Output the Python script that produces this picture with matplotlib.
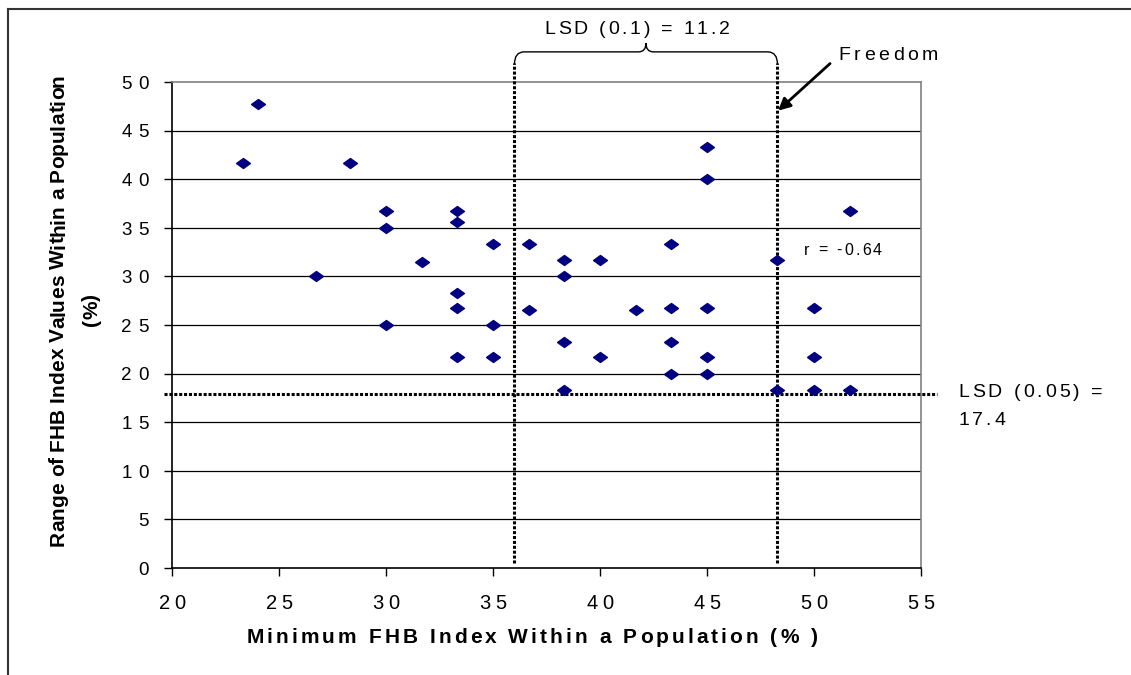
#!env python3

import numpy as np
import matplotlib
matplotlib.use("Agg")
import matplotlib.pyplot as plt
from matplotlib.path import Path
from matplotlib.patches import PathPatch
from matplotlib.lines import Line2D
from matplotlib.transforms import offset_copy
from matplotlib.font_manager import FontProperties, findfont, get_font

FAMILY = 'Liberation Sans'
plt.rcParams['font.family'] = [FAMILY, 'DejaVu Sans']

# minimum FHB index (%) vs range of FHB index (%) per population
min_fhb = [23.3, 24.0, 26.7, 28.3, 30.0, 30.0, 30.0, 31.7,
           33.3, 33.3, 33.3, 33.3, 33.3, 35.0, 35.0, 35.0,
           36.7, 36.7, 38.3, 38.3, 38.3, 38.3, 40.0, 40.0,
           41.7, 43.3, 43.3, 43.3, 43.3, 45.0, 45.0, 45.0,
           45.0, 45.0, 48.3, 48.3, 50.0, 50.0, 50.0, 51.7, 51.7]
range_fhb = [41.7, 47.7, 30.0, 41.7, 36.7, 35.0, 25.0, 31.5,
             36.7, 35.6, 28.3, 26.7, 21.7, 33.3, 25.0, 21.7,
             33.3, 26.5, 31.7, 30.0, 23.3, 18.3, 31.7, 21.7,
             26.5, 33.3, 26.7, 23.3, 20.0, 43.3, 40.0, 26.7,
             21.7, 20.0, 31.7, 18.3, 26.7, 21.7, 18.3, 36.7, 18.3]

xticks = [20, 25, 30, 35, 40, 45, 50, 55]
yticks = [0, 5, 10, 15, 20, 25, 30, 35, 40, 45, 50]

lsd_lo = 36.0      # left end of the LSD (0.1) bracket
freedom_x = 48.3   # Freedom minimum FHB index
lsd_y = 17.9       # LSD (0.05) line

W, H, DPI = 1131, 675, 100
fig = plt.figure(figsize=(W / DPI, H / DPI), dpi=DPI)
ax = fig.add_axes([0.1523, 0.1585, 0.8141 - 0.1523, 0.8785 - 0.1585])


def px(x, y):
    return x / W, 1 - y / H


def spaced(x, y, s, size, width, trans, weight='normal', ha='left',
           rotation=0, dx=0, dy=0):
    """Letter-spaced text: stretch s to `width` pixels by widening the gaps."""
    font = get_font(findfont(FontProperties(family=FAMILY, weight=weight)))
    font.set_size(size, DPI)
    adv = [font.load_char(ord(c)).linearHoriAdvance / 65536.0 for c in s]
    gap = 0
    if width is not None and len(s) > 1:
        gap = max(0, (width - sum(adv)) / (len(s) - 1))
    total = sum(adv) + gap * (len(s) - 1)
    pos = {'left': 0, 'center': -total / 2, 'right': -total}[ha]
    for c, a in zip(s, adv):
        if rotation == 90:
            tr = offset_copy(trans, fig=fig, x=dx, y=dy + pos, units='dots')
        else:
            tr = offset_copy(trans, fig=fig, x=dx + pos, y=dy, units='dots')
        fig.text(x, y, c, transform=tr, fontsize=size, fontweight=weight,
                 rotation=rotation, rotation_mode='anchor',
                 ha='left', va='baseline')
        pos += a + gap


# flattened diamond marker
diamond = [(-1, 0), (0, 0.72), (1, 0), (0, -0.72), (-1, 0)]
ax.plot(min_fhb, range_fhb, linestyle='none', marker=diamond,
        markersize=10, color='#000080', zorder=5, clip_on=False)

ax.set_xlim(20, 55)
ax.set_ylim(0, 50)
ax.set_xticks(xticks)
ax.set_yticks(yticks)
ax.set_xticklabels([])
ax.set_yticklabels([])
ax.tick_params(axis='both', length=6, width=1, direction='out')

for t in xticks:
    spaced(t, 0, str(t), 14.5, 27, ax.transData, ha='center', dy=-41)
for t in yticks:
    spaced(20, t, str(t), 13.5, 27, ax.transData,
           ha='right', dx=-24, dy=-6.7)

for y in yticks[1:-1]:
    ax.axhline(y, color='black', lw=0.9, zorder=1)
for side in ['top', 'right']:
    ax.spines[side].set_color('#808080')
    ax.spines[side].set_linewidth(1.2)
for side in ['left', 'bottom']:
    ax.spines[side].set_color('black')
    ax.spines[side].set_linewidth(1.2)

dots = (0, (1, 0.6))
for xv in [lsd_lo, freedom_x]:
    ax.plot([xv, xv], [0.5, 52.0], color='black', lw=2.2,
            linestyle=dots, clip_on=False, zorder=4)
ax.plot([19.6, 55.75], [lsd_y, lsd_y], color='black', lw=2.2,
        linestyle=dots, clip_on=False, zorder=4)

# curly brace above the LSD (0.1) interval
xl, xr = lsd_lo, freedom_x
xm = (xl + xr) / 2
y0, y1, y2 = 51.8, 53.1, 54.0
verts = [(xl, y0), (xl, y1), (xl + 0.45, y1),
         (xm - 0.35, y1), (xm, y1), (xm, y2),
         (xm, y1), (xm + 0.35, y1),
         (xr - 0.45, y1), (xr, y1), (xr, y0)]
codes = [Path.MOVETO, Path.CURVE3, Path.CURVE3,
         Path.LINETO, Path.CURVE3, Path.CURVE3,
         Path.CURVE3, Path.CURVE3,
         Path.LINETO, Path.CURVE3, Path.CURVE3]
ax.add_patch(PathPatch(Path(verts, codes), facecolor='none',
                       edgecolor='black', lw=1.0, clip_on=False))

ax.annotate('', xy=(freedom_x + 0.03, 47.05), xytext=(50.76, 51.9),
            arrowprops=dict(arrowstyle='-|>', color='black', lw=2,
                            mutation_scale=18, shrinkA=0, shrinkB=0),
            annotation_clip=False)

ft = fig.transFigure
spaced(*px(637, 33.5), 'LSD (0.1) = 11.2', 14, 185, ft, ha='center')
spaced(*px(838, 60.5), 'Freedom', 14, 100, ft)
spaced(*px(804, 255), 'r = -0.64', 11.5, 78, ft)
spaced(*px(958, 397), 'LSD (0.05) =', 14, 144, ft)
spaced(*px(958, 425), '17.4', 14, 47, ft)

spaced(*px(64, 310), 'Range of FHB Index Values Within a Population',
       15, 470, ft, weight='bold', ha='center', rotation=90)
spaced(*px(97, 310), '(%)', 15, None, ft, weight='bold', ha='center',
       rotation=90)
spaced(*px(532, 643), 'Minimum FHB Index Within a Population (% )',
       15, 571, ft, weight='bold', ha='center')

# outer chart border (top and left edges only visible)
fig.add_artist(Line2D([8 / W, 1.0], [1 - 8.5 / H, 1 - 8.5 / H],
                      color='#333333', lw=1.5, transform=ft))
fig.add_artist(Line2D([8.3 / W, 8.3 / W], [0.0, 1 - 8.5 / H],
                      color='#333333', lw=1.5, transform=ft))

fig.savefig('out.png', dpi=DPI)
